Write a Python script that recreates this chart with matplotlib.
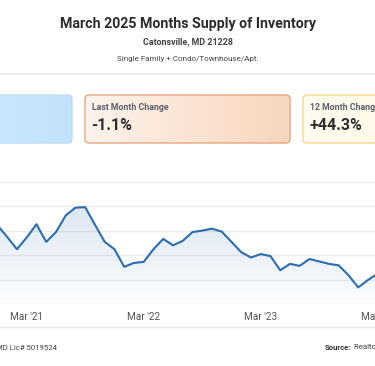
import numpy as np
import matplotlib
matplotlib.use('Agg')
import matplotlib.pyplot as plt
from matplotlib.patches import FancyBboxPatch
from matplotlib.colors import to_rgb
import pandas as pd

plt.rcParams['font.family'] = ['Roboto', 'DejaVu Sans']

# ---------------- data ----------------
title = "March 2025 Months Supply of Inventory"
subtitle = "Catonsville, MD 21228"
subtitle2 = "Single Family + Condo/Townhouse/Apt."
months = pd.date_range('2020-12-01', '2024-03-01', freq='MS')
supply = [1.61, 1.37, 1.12, 1.36, 1.63, 1.27, 1.47, 1.81, 1.97, 1.98, 1.62, 1.27, 1.12,
          0.76, 0.84, 0.86, 1.12, 1.33, 1.20, 1.29, 1.47, 1.50, 1.54, 1.48, 1.27,
          1.06, 0.95, 1.02, 0.98, 0.69, 0.82, 0.78, 0.92, 0.87, 0.82, 0.79, 0.59,
          0.34, 0.49, 0.62]
card_labels = ["", "Last Month Change", "12 Month Change"]
card_values = ["", "-1.1%", "+44.3%"]
footer_left = "MD Lic# 5019524"
footer_source = "Realtors Property Resource\u00ae"

W, H = 375, 366
fig = plt.figure(figsize=(W / 100, H / 100), dpi=100)
fig.patch.set_facecolor('white')

# ---------------- chart ----------------
px_left, px_right = -100, 480
px_top, px_bottom = 181.7, 304
ax = fig.add_axes([px_left / W, (H - px_bottom) / H,
                   (px_right - px_left) / W, (px_bottom - px_top) / H])
x = np.arange(len(supply))
y = np.array(supply)
x0_px, step_px = 26.7, 9.75  # Mar '21 position and month width in pixels
i_mar21 = 3
xlim = ((px_left - x0_px) / step_px + i_mar21, (px_right - x0_px) / step_px + i_mar21)

line_color = '#2a6db0'
fill_poly = ax.fill_between(x, y, 0, color='none', lw=0)
grad = np.linspace(0, 1, 256).reshape(-1, 1)
rgb = np.array(to_rgb(line_color))
img = np.zeros((256, 1, 4))
img[..., :3] = rgb
img[..., 3] = 0.02 + 0.14 * grad
im = ax.imshow(img, extent=(x[0], x[-1], 0, y.max()), origin='lower',
               aspect='auto', zorder=1)
im.set_clip_path(fill_poly.get_paths()[0], transform=ax.transData)
ax.plot(x, y, color=line_color, lw=1.5, zorder=3, solid_joinstyle='round')
ax.set_xlim(*xlim)
ax.set_ylim(0, 2.5)

ax.set_yticks(np.arange(0, 2.51, 0.5))
ax.yaxis.grid(True, color='#ebebeb', lw=1)
ax.set_axisbelow(True)
tick_idx = [i for i, m in enumerate(months) if m.month == 3]
ax.set_xticks(tick_idx)
ax.set_xticklabels([m.strftime("Mar '%y") for m in months[tick_idx]])
ax.tick_params(axis='x', length=0, pad=6, labelsize=7.2, labelcolor='#555555')
ax.tick_params(axis='y', length=0, labelleft=False)
for s in ax.spines.values():
    s.set_visible(False)
ax.patch.set_alpha(0)

# ---------------- overlay (pixel coords) ----------------
ov = fig.add_axes([0, 0, 1, 1])
ov.set_xlim(0, W)
ov.set_ylim(H, 0)
ov.axis('off')

ov.text(W / 2, 28.3, title, ha='center', va='baseline', fontsize=10.2,
        fontweight='bold', color='#2b2b2b')
ov.text(W / 2, 44.5, subtitle, ha='center', va='baseline', fontsize=6.4,
        fontweight='bold', color='#444444')
ov.text(W / 2, 61, subtitle2, ha='center', va='baseline', fontsize=5.8,
        color='#444444')
ov.plot([0, W], [74, 74], color='#eeeeee', lw=1.5)

card_x = [-133, 85, 303]
card_w, card_top, card_h = 205, 95, 48
card_grad = [('#d8edfe', '#c2e2fb'), ('#fdf3ec', '#f8d5bd'), ('#fffbee', '#fff7e2')]
card_edge = ['#bcdcf6', '#e8a780', '#f5d98f']
for cx, (c0, c1), ec, lab, val in zip(card_x, card_grad, card_edge, card_labels, card_values):
    patch = FancyBboxPatch((cx, card_top), card_w, card_h,
                           boxstyle='round,pad=0,rounding_size=4',
                           facecolor='none', edgecolor=ec, lw=1.0, zorder=3)
    ov.add_patch(patch)
    g = np.linspace(0, 1, 256)
    a, b = np.array(to_rgb(c0)), np.array(to_rgb(c1))
    cimg = (a[None, :] * (1 - g[:, None]) + b[None, :] * g[:, None])[None, :, :]
    ci = ov.imshow(cimg, extent=(cx, cx + card_w, card_top + card_h, card_top),
                   origin='upper', aspect='auto', zorder=2)
    ci.set_clip_path(patch)
    if lab:
        ov.text(cx + 7, 110, lab, ha='left', va='baseline', fontsize=6.3,
                fontweight='bold', color='#5b606b', zorder=4)
    if val:
        ov.text(cx + 6.5, 129.5, val, ha='left', va='baseline', fontsize=11.5,
                fontweight='bold', color='#2e2e2e', zorder=4)
ov.set_xlim(0, W)
ov.set_ylim(H, 0)

# footer
ov.plot([0, W], [327, 327], color='#e8e8e8', lw=1)
ov.text(-3.5, 349.5, footer_left, ha='left', va='baseline', fontsize=5.6, color='#444444')
t_src = ov.text(325, 349.5, "Source:", ha='left', va='baseline', fontsize=5.6,
                fontweight='bold', color='#333333')
fig.canvas.draw()
bb = t_src.get_window_extent()
x_next = ov.transData.inverted().transform((bb.x1, bb.y0))[0] + 2
ov.text(x_next, 349.5, footer_source, ha='left', va='baseline', fontsize=5.6, color='#444444')

fig.savefig('out.png', dpi=100, facecolor='white')
